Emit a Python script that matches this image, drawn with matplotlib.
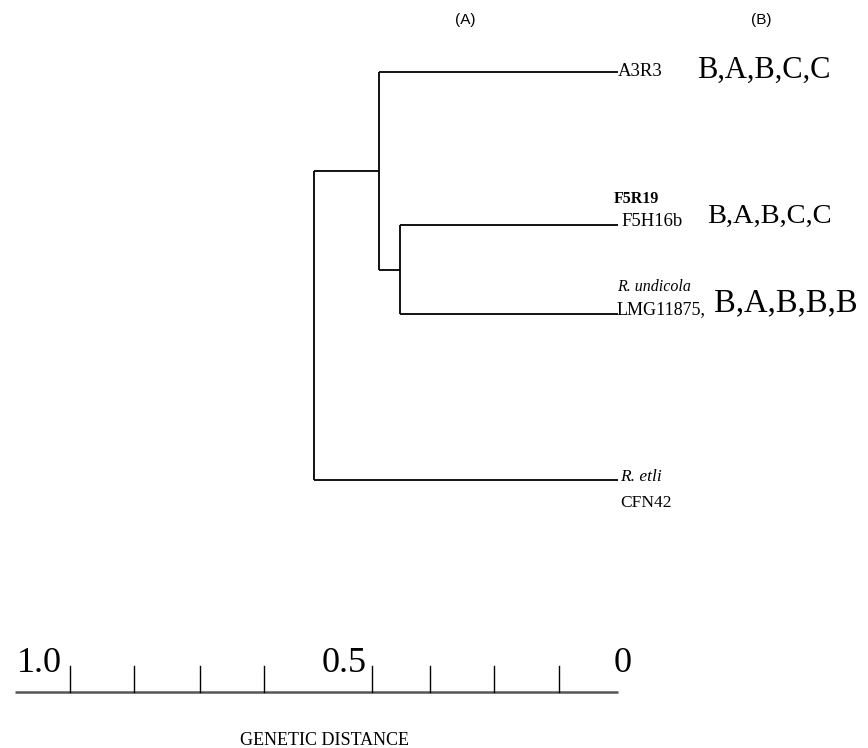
import matplotlib
matplotlib.use("Agg")
import matplotlib.pyplot as plt

# ---- data ----
leaf_names = ["A3R3", "F5H16b", "LMG11875", "CFN42"]
leaf_rows = [72, 225, 314, 480]          # vertical row of each leaf
leaf_dist = [0.0, 0.0, 0.0, 0.0]
# internal nodes: (height, child_a, child_b)
node_n1 = (0.362, "F5H16b", "LMG11875")
node_n2 = (0.396, "A3R3", "n1")
node_root = (0.504, "n2", "CFN42")
profiles = ["B,A,B,C,C", "B,A,B,C,C", "B,A,B,B,B"]
scale_ticks = [0.909, 0.803, 0.694, 0.587, 0.408, 0.312, 0.206, 0.098]
scale_labels = ["1.0", "0.5", "0"]
scale_label_vals = [0.96, 0.455, -0.008]

W, H = 868, 748
fig = plt.figure(figsize=(W / 100, H / 100), dpi=100)
ax = fig.add_axes([0, 0, 1, 1])
x0_pix, px_per_unit = 618, 603
ax.set_xlim(x0_pix / px_per_unit, (x0_pix - W) / px_per_unit)
ax.set_ylim(H, 0)
ax.axis("off")


def px(x):
    """convert a horizontal pixel offset to the distance axis"""
    return (x0_pix - x) / px_per_unit


serif = "Liberation Serif"
sans = "Liberation Sans"
lw = 1.3

# ---- tree ----
pos = {n: (d, r) for n, d, r in zip(leaf_names, leaf_dist, leaf_rows)}


def draw_node(name, node):
    h, a, b = node
    xa, ya = pos[a]
    xb, yb = pos[b]
    ax.plot([h, h], [ya, yb], color="black", lw=lw, solid_capstyle="butt")
    ax.plot([h, xa], [ya, ya], color="black", lw=lw, solid_capstyle="butt")
    ax.plot([h, xb], [yb, yb], color="black", lw=lw, solid_capstyle="butt")
    pos[name] = (h, (ya + yb) / 2)


draw_node("n1", node_n1)
draw_node("n2", node_n2)
draw_node("root", node_root)

# ---- labels ----
def label(x, y, s, size, **kw):
    ax.text(px(x), y, s, family=serif, fontsize=size, va="center", ha="left", **kw)


label(618, leaf_rows[0] - 1, "A3R3", 13.5)
label(697, leaf_rows[0] - 2, profiles[0], 22)

label(614, leaf_rows[1] - 26, "F5R19", 11.5, fontweight="bold")
label(621, leaf_rows[1] - 4, "F5H16b", 13.5)
label(707, leaf_rows[1] - 9, profiles[1], 20.5)

label(617, leaf_rows[2] - 27, "R. undicola", 11.5, style="italic")
label(617, leaf_rows[2] - 4, "LMG11875,", 13)
label(714, leaf_rows[2] - 11, profiles[2], 23.5)

label(620, leaf_rows[3] - 3, "R. etli", 12.5, style="italic")
label(620, leaf_rows[3] + 23, "CFN42", 12.5)

ax.text(px(465), 20, "(A)", family=sans, fontsize=11, va="center", ha="center")
ax.text(px(761), 20, "(B)", family=sans, fontsize=11, va="center", ha="center")

# ---- scale bar ----
bar_y = 692
ax.plot([px(15), 0.0], [bar_y, bar_y], color="#555555", lw=1.8, solid_capstyle="butt")
for t in scale_ticks:
    ax.plot([t, t], [bar_y, bar_y - 26], color="black", lw=1.0)
for lab, v in zip(scale_labels, scale_label_vals):
    ax.text(v, 672, lab, family=serif, fontsize=26, va="baseline", ha="center")
ax.text(px(325), 745, "GENETIC DISTANCE", family=serif, fontsize=13, va="baseline", ha="center")

fig.savefig("out.png", dpi=100)
